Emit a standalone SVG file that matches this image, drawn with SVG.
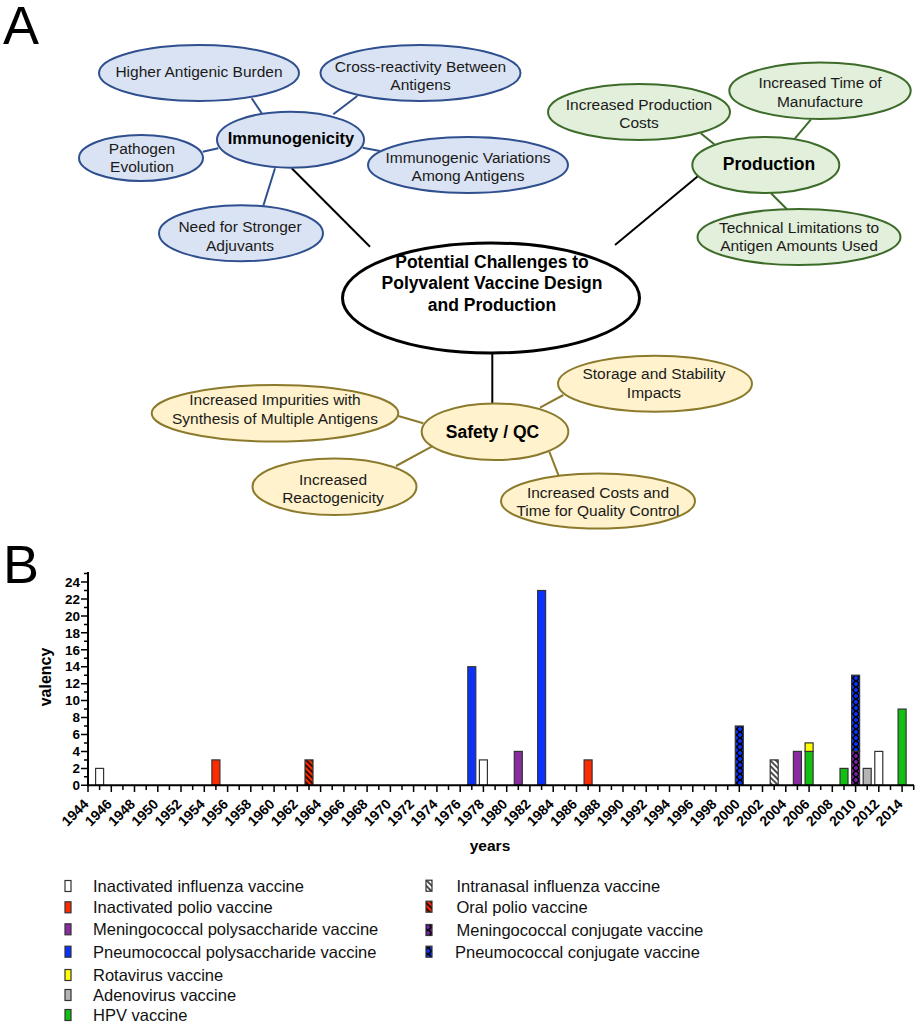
<svg xmlns="http://www.w3.org/2000/svg" width="918" height="1024" viewBox="0 0 918 1024">
<defs>
<style>
text{font-family:"Liberation Sans",Arial,sans-serif;fill:#1a1a1a}
.t{font-size:15.5px;text-anchor:middle}
.tb{font-size:17.5px;font-weight:bold;text-anchor:middle;fill:#000}
.eb{fill:#DAE3F3;stroke:#2F4F8F;stroke-width:2}
.eg{fill:#E2EFDA;stroke:#3D6B2A;stroke-width:2}
.ey{fill:#FFF2CC;stroke:#8C7A2C;stroke-width:2}
.lb{stroke:#2F4F8F;stroke-width:2}
.lg{stroke:#3D6B2A;stroke-width:2}
.ly{stroke:#8C7A2C;stroke-width:2}
.lk{stroke:#000;stroke-width:2}
.ax{stroke:#000;stroke-width:2;fill:none}
.tk{stroke:#000;stroke-width:1.5}
.yl{font-size:13.5px;font-weight:bold;text-anchor:end;fill:#000}
.xl{font-size:14px;font-weight:bold;text-anchor:end;fill:#000}
.bar{stroke:#333;stroke-width:1.2}
.lg16{font-size:16.5px;fill:#111}
.big{font-size:54px;fill:#000}
</style>
<pattern id="hatchRed" patternUnits="userSpaceOnUse" width="4" height="4" patternTransform="rotate(45)">
<rect width="4" height="4" fill="#FF2A00"/><line x1="0" y1="1" x2="4" y2="1" stroke="#000" stroke-width="1.6"/>
</pattern>
<pattern id="hatchWhite" patternUnits="userSpaceOnUse" width="4" height="4" patternTransform="rotate(45)">
<rect width="4" height="4" fill="#fff"/><line x1="0" y1="1" x2="4" y2="1" stroke="#000" stroke-width="1.4"/>
</pattern>
<pattern id="conjBlue" patternUnits="userSpaceOnUse" width="8" height="6" x="0" y="0">
<rect width="8" height="6" fill="#000"/>
<polygon points="4,0.6 6.4,3 4,5.4 1.6,3" fill="#0A32FF"/>
<polygon points="0,-2.4 2.4,0 0,2.4 -2.4,0" fill="#0A32FF"/>
<polygon points="8,-2.4 10.4,0 8,2.4 5.6,0" fill="#0A32FF"/>
<polygon points="0,3.6 2.4,6 0,8.4 -2.4,6" fill="#0A32FF"/>
<polygon points="8,3.6 10.4,6 8,8.4 5.6,6" fill="#0A32FF"/>
</pattern>
<pattern id="conjPurple" patternUnits="userSpaceOnUse" width="8" height="6" x="0" y="0">
<rect width="8" height="6" fill="#000"/>
<polygon points="4,0.6 6.4,3 4,5.4 1.6,3" fill="#7A1FA0"/>
<polygon points="0,-2.4 2.4,0 0,2.4 -2.4,0" fill="#7A1FA0"/>
<polygon points="8,-2.4 10.4,0 8,2.4 5.6,0" fill="#7A1FA0"/>
<polygon points="0,3.6 2.4,6 0,8.4 -2.4,6" fill="#7A1FA0"/>
<polygon points="8,3.6 10.4,6 8,8.4 5.6,6" fill="#7A1FA0"/>
</pattern>
</defs>
<rect width="918" height="1024" fill="#fff"/>

<text class="big" x="3" y="44">A</text>
<text class="big" x="3" y="583">B</text>

<g id="connectors">
<line class="lb" x1="251.7" y1="98.3" x2="261.7" y2="113.3"/>
<line class="lb" x1="333.3" y1="114.3" x2="357.3" y2="96"/>
<line class="lb" x1="202.7" y1="151.7" x2="218.3" y2="148.3"/>
<line class="lb" x1="362.7" y1="147.7" x2="380" y2="151"/>
<line class="lb" x1="275" y1="168.3" x2="263.3" y2="205.7"/>
<line class="lk" x1="291.7" y1="168.3" x2="370" y2="246.7"/>
<line class="lk" x1="699.3" y1="175" x2="615" y2="245"/>
<line class="lg" x1="700.7" y1="133.3" x2="714.3" y2="144.3"/>
<line class="lg" x1="795" y1="138.3" x2="811" y2="119.3"/>
<line class="lg" x1="771" y1="193.3" x2="787.7" y2="210"/>
<line class="lk" x1="492.3" y1="353" x2="492.3" y2="403.5"/>
<line class="ly" x1="540" y1="407.7" x2="563.3" y2="395"/>
<line class="ly" x1="398.3" y1="416" x2="423.3" y2="423.3"/>
<line class="ly" x1="396" y1="466" x2="431.7" y2="446.7"/>
<line class="ly" x1="549.3" y1="451.7" x2="559" y2="476.7"/>
</g>

<g id="n-immunogenicity"><ellipse class="eb" cx="290.5" cy="139.7" rx="73.5" ry="28"/><text class="tb" x="291" y="144" style="font-size:16.5px">Immunogenicity</text></g>
<g id="n-higher"><ellipse class="eb" cx="199" cy="73" rx="100" ry="28"/><text class="t" x="199" y="77">Higher Antigenic Burden</text></g>
<g id="n-cross"><ellipse class="eb" cx="420.5" cy="73" rx="100" ry="28"/><text class="t" x="420.5" y="71.5">Cross-reactivity Between</text><text class="t" x="420.5" y="89.5">Antigens</text></g>
<g id="n-pathogen"><ellipse class="eb" cx="141" cy="158" rx="62" ry="23"/><text class="t" x="142" y="153.8">Pathogen</text><text class="t" x="142" y="172.2">Evolution</text></g>
<g id="n-variations"><ellipse class="eb" cx="468" cy="165" rx="100" ry="28"/><text class="t" x="468" y="162.8">Immunogenic Variations</text><text class="t" x="468" y="181.2">Among Antigens</text></g>
<g id="n-adjuvants"><ellipse class="eb" cx="241" cy="233.3" rx="82" ry="28"/><text class="t" x="240" y="231.5">Need for Stronger</text><text class="t" x="240" y="250.5">Adjuvants</text></g>

<g id="n-central"><ellipse cx="491" cy="298" rx="148.5" ry="55" fill="#fff" stroke="#000" stroke-width="3"/><text class="tb" x="492" y="267.5">Potential Challenges to</text><text class="tb" x="492" y="289">Polyvalent Vaccine Design</text><text class="tb" x="492" y="310.5">and Production</text></g>

<g id="n-production"><ellipse class="eg" cx="765.8" cy="165" rx="73.5" ry="28"/><text class="tb" x="769" y="170">Production</text></g>
<g id="n-prodcosts"><ellipse class="eg" cx="639" cy="112" rx="91" ry="28"/><text class="t" x="639" y="109.8">Increased Production</text><text class="t" x="639" y="128.2">Costs</text></g>
<g id="n-manufacture"><ellipse class="eg" cx="820" cy="90.7" rx="90.7" ry="28.3"/><text class="t" x="820" y="88.2">Increased Time of</text><text class="t" x="820" y="106.5">Manufacture</text></g>
<g id="n-technical"><ellipse class="eg" cx="799" cy="237" rx="101.5" ry="28"/><text class="t" x="799" y="232.8">Technical Limitations to</text><text class="t" x="799" y="251.2">Antigen Amounts Used</text></g>

<g id="n-safety"><ellipse class="ey" cx="495" cy="431.7" rx="73.3" ry="28.3"/><text class="tb" x="492.5" y="437.7">Safety / QC</text></g>
<g id="n-storage"><ellipse class="ey" cx="655" cy="383.7" rx="97" ry="28"/><text class="t" x="654" y="378.8">Storage and Stability</text><text class="t" x="654" y="397.8">Impacts</text></g>
<g id="n-impurities"><ellipse class="ey" cx="275" cy="413.3" rx="123.3" ry="28.3"/><text class="t" x="275" y="404.8">Increased Impurities with</text><text class="t" x="275" y="423.8">Synthesis of Multiple Antigens</text></g>
<g id="n-reactogenicity"><ellipse class="ey" cx="334.5" cy="486.7" rx="82" ry="28.3"/><text class="t" x="333" y="484.5">Increased</text><text class="t" x="333" y="503.2">Reactogenicity</text></g>
<g id="n-qccosts"><ellipse class="ey" cx="598" cy="501" rx="97" ry="27.5"/><text class="t" x="598" y="497.8">Increased Costs and</text><text class="t" x="598" y="516.2">Time for Quality Control</text></g>

<g id="chart">
<g id="bars">
<rect class="bar" x="95.6" y="768.4" width="8" height="16.9" fill="#fff"/>
<rect class="bar" x="211.9" y="759.9" width="8" height="25.4" fill="#FF2A00"/>
<rect class="bar" x="305" y="759.9" width="8" height="25.4" fill="url(#hatchRed)"/>
<rect class="bar" x="467.8" y="666.7" width="8" height="118.6" fill="#0A32FF"/>
<rect class="bar" x="479.4" y="759.9" width="8" height="25.4" fill="#fff"/>
<rect class="bar" x="514.3" y="751.4" width="8" height="33.9" fill="#8A2BA0"/>
<rect class="bar" x="537.6" y="590.5" width="8" height="194.8" fill="#0A32FF"/>
<rect class="bar" x="584.1" y="759.9" width="8" height="25.4" fill="#FF2A00"/>
<rect class="bar" x="735.3" y="726" width="8" height="59.3" fill="url(#conjBlue)"/>
<rect class="bar" x="770.2" y="759.9" width="8" height="25.4" fill="url(#hatchWhite)"/>
<rect class="bar" x="793.4" y="751.4" width="8" height="33.9" fill="#8A2BA0"/>
<rect class="bar" x="805.1" y="751.4" width="8" height="33.9" fill="#11C011"/>
<rect class="bar" x="805.1" y="742.9" width="8" height="8.5" fill="#FFFF00"/>
<rect class="bar" x="840" y="768.4" width="8" height="16.9" fill="#11C011"/>
<rect class="bar" x="851.6" y="751.4" width="8" height="33.9" fill="url(#conjPurple)"/>
<rect class="bar" x="851.6" y="675.2" width="8" height="76.2" fill="url(#conjBlue)"/>
<rect class="bar" x="863.2" y="768.4" width="8" height="16.9" fill="#B4B4B4"/>
<rect class="bar" x="874.8" y="751.4" width="8" height="33.9" fill="#fff"/>
<rect class="bar" x="898.1" y="709.1" width="8" height="76.2" fill="#11C011"/>
</g>
<g id="y-axis">
<line class="ax" x1="88" y1="572" x2="88" y2="786.3"/>
<path class="tk" d="M81,785.3H88M81,768.4H88M81,751.4H88M81,734.5H88M81,717.5H88M81,700.6H88M81,683.7H88M81,666.7H88M81,649.8H88M81,632.8H88M81,615.9H88M81,598.9H88M81,582H88"/>
<path class="tk" d="M84,776.8H88M84,759.9H88M84,742.9H88M84,726H88M84,709.1H88M84,692.1H88M84,675.2H88M84,658.2H88M84,641.3H88M84,624.4H88M84,607.4H88M84,590.5H88M84,573.5H88"/>
<text class="yl" x="80" y="790">0</text>
<text class="yl" x="80" y="773.1">2</text>
<text class="yl" x="80" y="756.1">4</text>
<text class="yl" x="80" y="739.2">6</text>
<text class="yl" x="80" y="722.2">8</text>
<text class="yl" x="80" y="705.3">10</text>
<text class="yl" x="80" y="688.4">12</text>
<text class="yl" x="80" y="671.4">14</text>
<text class="yl" x="80" y="654.5">16</text>
<text class="yl" x="80" y="637.5">18</text>
<text class="yl" x="80" y="620.6">20</text>
<text class="yl" x="80" y="603.6">22</text>
<text class="yl" x="80" y="586.7">24</text>
<text x="51" y="677" transform="rotate(-90 51 677)" style="font-size:16px;font-weight:bold;text-anchor:middle;fill:#000">valency</text>
</g>
<g id="x-axis">
<line class="ax" x1="87" y1="785.3" x2="914" y2="785.3"/>
<path class="tk" d="M88,785V792M111.3,785V792M134.5,785V792M157.8,785V792M181,785V792M204.3,785V792M227.6,785V792M250.8,785V792M274.1,785V792M297.3,785V792M320.6,785V792M343.9,785V792M367.1,785V792M390.4,785V792M413.6,785V792M436.9,785V792M460.2,785V792M483.4,785V792M506.7,785V792M529.9,785V792M553.2,785V792M576.5,785V792M599.7,785V792M623,785V792M646.2,785V792M669.5,785V792M692.8,785V792M716,785V792M739.3,785V792M762.5,785V792M785.8,785V792M809.1,785V792M832.3,785V792M855.6,785V792M878.8,785V792M902.1,785V792"/>
<path class="tk" d="M99.6,785V790M122.9,785V790M146.2,785V790M169.4,785V790M192.7,785V790M215.9,785V790M239.2,785V790M262.5,785V790M285.7,785V790M309,785V790M332.2,785V790M355.5,785V790M378.8,785V790M402,785V790M425.3,785V790M448.5,785V790M471.8,785V790M495.1,785V790M518.3,785V790M541.6,785V790M564.8,785V790M588.1,785V790M611.4,785V790M634.6,785V790M657.9,785V790M681.1,785V790M704.4,785V790M727.7,785V790M750.9,785V790M774.2,785V790M797.4,785V790M820.7,785V790M844,785V790M867.2,785V790M890.5,785V790M913.7,785V790"/>
<text class="xl" transform="translate(89.5 805) rotate(-45)">1944</text>
<text class="xl" transform="translate(112.8 805) rotate(-45)">1946</text>
<text class="xl" transform="translate(136 805) rotate(-45)">1948</text>
<text class="xl" transform="translate(159.3 805) rotate(-45)">1950</text>
<text class="xl" transform="translate(182.5 805) rotate(-45)">1952</text>
<text class="xl" transform="translate(205.8 805) rotate(-45)">1954</text>
<text class="xl" transform="translate(229.1 805) rotate(-45)">1956</text>
<text class="xl" transform="translate(252.3 805) rotate(-45)">1958</text>
<text class="xl" transform="translate(275.6 805) rotate(-45)">1960</text>
<text class="xl" transform="translate(298.8 805) rotate(-45)">1962</text>
<text class="xl" transform="translate(322.1 805) rotate(-45)">1964</text>
<text class="xl" transform="translate(345.4 805) rotate(-45)">1966</text>
<text class="xl" transform="translate(368.6 805) rotate(-45)">1968</text>
<text class="xl" transform="translate(391.9 805) rotate(-45)">1970</text>
<text class="xl" transform="translate(415.1 805) rotate(-45)">1972</text>
<text class="xl" transform="translate(438.4 805) rotate(-45)">1974</text>
<text class="xl" transform="translate(461.7 805) rotate(-45)">1976</text>
<text class="xl" transform="translate(484.9 805) rotate(-45)">1978</text>
<text class="xl" transform="translate(508.2 805) rotate(-45)">1980</text>
<text class="xl" transform="translate(531.4 805) rotate(-45)">1982</text>
<text class="xl" transform="translate(554.7 805) rotate(-45)">1984</text>
<text class="xl" transform="translate(578 805) rotate(-45)">1986</text>
<text class="xl" transform="translate(601.2 805) rotate(-45)">1988</text>
<text class="xl" transform="translate(624.5 805) rotate(-45)">1990</text>
<text class="xl" transform="translate(647.7 805) rotate(-45)">1992</text>
<text class="xl" transform="translate(671 805) rotate(-45)">1994</text>
<text class="xl" transform="translate(694.3 805) rotate(-45)">1996</text>
<text class="xl" transform="translate(717.5 805) rotate(-45)">1998</text>
<text class="xl" transform="translate(740.8 805) rotate(-45)">2000</text>
<text class="xl" transform="translate(764 805) rotate(-45)">2002</text>
<text class="xl" transform="translate(787.3 805) rotate(-45)">2004</text>
<text class="xl" transform="translate(810.6 805) rotate(-45)">2006</text>
<text class="xl" transform="translate(833.8 805) rotate(-45)">2008</text>
<text class="xl" transform="translate(857.1 805) rotate(-45)">2010</text>
<text class="xl" transform="translate(880.3 805) rotate(-45)">2012</text>
<text class="xl" transform="translate(903.6 805) rotate(-45)">2014</text>
<text x="490" y="851" style="font-size:15.5px;font-weight:bold;text-anchor:middle;fill:#000">years</text>
</g>
</g>

<g id="legend">
<rect class="bar" x="65" y="880.5" width="6" height="11" fill="#fff"/><text class="lg16" x="93" y="892">Inactivated influenza vaccine</text>
<rect class="bar" x="65" y="901.8" width="6" height="11" fill="#FF2A00"/><text class="lg16" x="93" y="913.3">Inactivated polio vaccine</text>
<rect class="bar" x="65" y="923.8" width="6" height="11" fill="#8A2BA0"/><text class="lg16" x="93" y="935.3">Meningococcal polysaccharide vaccine</text>
<rect class="bar" x="65" y="946.2" width="6" height="11" fill="#0A32FF"/><text class="lg16" x="93" y="957.7">Pneumococcal polysaccharide vaccine</text>
<rect class="bar" x="65" y="969.5" width="6" height="11" fill="#FFFF00"/><text class="lg16" x="93" y="981">Rotavirus vaccine</text>
<rect class="bar" x="65" y="989.5" width="6" height="11" fill="#B4B4B4"/><text class="lg16" x="93" y="1001">Adenovirus vaccine</text>
<rect class="bar" x="65" y="1009.5" width="6" height="11" fill="#11C011"/><text class="lg16" x="93" y="1021">HPV vaccine</text>
<rect class="bar" x="426" y="880.2" width="6" height="11" fill="url(#hatchWhite)"/><text class="lg16" x="456.5" y="891.7">Intranasal influenza vaccine</text>
<rect class="bar" x="426" y="901.2" width="6" height="11" fill="url(#hatchRed)"/><text class="lg16" x="456.5" y="912.7">Oral polio vaccine</text>
<rect class="bar" x="426" y="924.5" width="6" height="11" fill="url(#conjPurple)"/><text class="lg16" x="456.5" y="936">Meningococcal conjugate vaccine</text>
<rect class="bar" x="426" y="946.2" width="6" height="11" fill="url(#conjBlue)"/><text class="lg16" x="455" y="957.7">Pneumococcal conjugate vaccine</text>
</g>
</svg>
